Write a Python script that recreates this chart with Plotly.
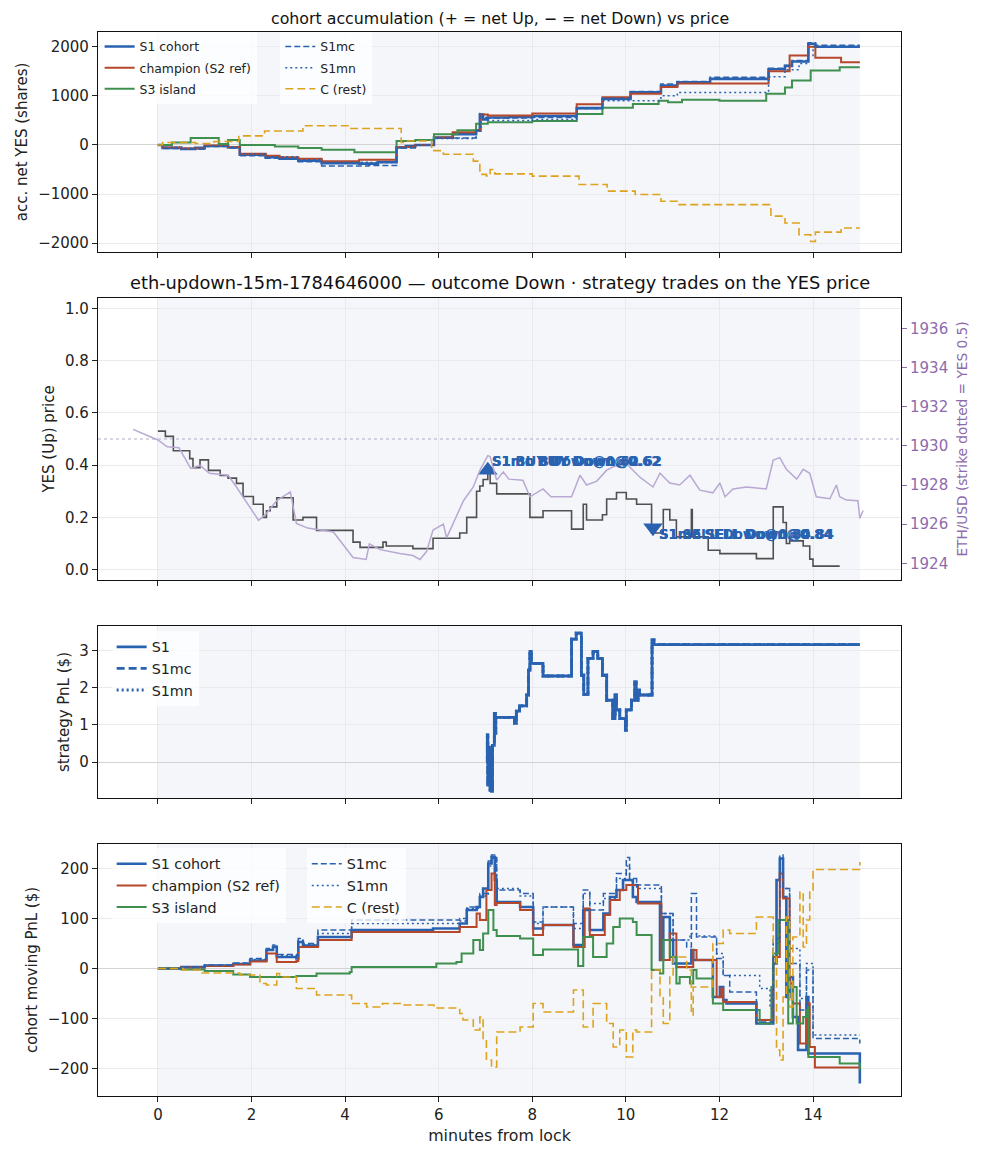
import plotly.graph_objects as go

# ---- data (minutes from lock, value) ----
# panel 1: accumulated net YES shares per cohort
s1_acc = [(0, 0), (0.1, -60), (0.5, -80), (0.8, -60), (1.0, -20), (1.5, -50), (1.75, -200),
          (2.3, -250), (2.6, -280), (3.0, -320), (3.5, -370), (4.3, -380), (4.7, -350),
          (5.1, -50), (5.3, -20), (5.5, 0), (5.9, 150), (6.3, 220), (6.8, 300), (6.88, 620),
          (6.95, 520), (7.05, 560), (7.5, 570), (8.0, 590), (8.95, 750), (9.5, 935),
          (10.1, 1070), (10.75, 1210), (11.1, 1275), (11.8, 1345), (13.05, 1540),
          (13.4, 1610), (13.55, 1700), (13.9, 2060), (14.05, 2000), (15.0, 2000)]
s1mc_acc = [(0, 0), (0.1, -70), (0.5, -90), (1.0, -30), (1.5, -60), (1.75, -220), (2.3, -270),
            (3.0, -340), (3.5, -430), (4.5, -420), (5.1, -60), (5.5, 0), (5.9, 140),
            (6.8, 290), (6.88, 640), (6.95, 520), (7.05, 550), (8.0, 560), (8.95, 740),
            (9.5, 950), (10.1, 1090), (10.75, 1240), (11.1, 1290), (11.8, 1380),
            (13.05, 1560), (13.4, 1620), (13.55, 1720), (13.9, 2080), (14.05, 2030),
            (15.0, 2030)]
s1mn_acc = [(0, 0), (0.1, -50), (0.5, -70), (1.0, -20), (1.5, -40), (1.75, -180), (2.3, -240),
            (3.0, -300), (3.5, -350), (4.5, -360), (5.1, -40), (5.5, 0), (5.9, 130),
            (6.8, 280), (6.9, 560), (7.05, 500), (8.0, 520), (8.95, 740), (9.5, 900),
            (10.75, 1000), (11.1, 1070), (13.05, 1390), (13.4, 1530), (13.7, 1660),
            (13.9, 1820), (14.0, 2000), (15.0, 2000)]
champ_acc = [(0, 0), (0.1, -50), (0.5, -70), (1.0, -10), (1.5, -40), (1.75, -180), (2.3, -220),
             (2.6, -250), (3.0, -280), (3.5, -330), (4.3, -300), (5.1, -40), (5.5, 0),
             (5.9, 150), (6.3, 260), (6.8, 300), (6.9, 620), (7.05, 600), (8.0, 640),
             (8.95, 830), (9.5, 970), (10.1, 1040), (10.75, 1180), (11.1, 1250),
             (13.05, 1500), (13.5, 1820), (13.9, 2000), (14.05, 1775), (14.6, 1685),
             (15.0, 1685)]
s3_acc = [(0, 0), (0.3, 50), (0.7, 140), (1.3, 20), (1.5, 100), (1.75, 0), (2.5, -30),
          (3.0, -60), (3.5, -100), (4.2, -150), (5.1, 80), (5.5, 100), (5.9, 220),
          (6.4, 300), (6.8, 430), (7.05, 460), (8.0, 490), (8.95, 630), (9.5, 760),
          (10.15, 835), (10.7, 900), (10.9, 870), (11.2, 920), (12.0, 900), (13.0, 1040),
          (13.4, 1170), (13.55, 1310), (13.95, 1515), (14.57, 1580), (15.0, 1580)]
rest_acc = [(0, 0), (0.1, 50), (0.8, 30), (1.2, 70), (1.73, 185), (2.28, 285), (3.1, 390),
            (4.1, 335), (5.2, 50), (5.3, 80), (5.85, -115), (6.1, -190), (6.74, -330),
            (6.88, -600), (7.02, -630), (7.1, -500), (7.2, -590), (8.0, -635), (9.0, -805),
            (9.6, -940), (10.2, -1010), (10.75, -1146), (11.1, -1215), (13.1, -1450),
            (13.4, -1590), (13.7, -1830), (13.95, -1965), (14.05, -1775), (14.6, -1690),
            (15.0, -1690)]

# panel 2: YES (Up) price and ETH/USD
yes_price = [(0, 0.53), (0.16, 0.51), (0.33, 0.455), (0.68, 0.425), (0.75, 0.39), (0.9, 0.42),
             (1.08, 0.38), (1.33, 0.36), (1.5, 0.35), (1.68, 0.33), (1.82, 0.28), (2.04, 0.25),
             (2.25, 0.20), (2.32, 0.225), (2.4, 0.24), (2.54, 0.275), (2.89, 0.19), (3.1, 0.20),
             (3.39, 0.15), (4.17, 0.105), (4.32, 0.085), (4.81, 0.105), (4.88, 0.09),
             (5.45, 0.08), (5.88, 0.12), (6.45, 0.14), (6.6, 0.2), (6.81, 0.3), (6.88, 0.32),
             (6.95, 0.345), (7.05, 0.38), (7.1, 0.33), (7.24, 0.29), (7.95, 0.2), (8.23, 0.225),
             (8.84, 0.155), (9.09, 0.25), (9.16, 0.19), (9.5, 0.21), (9.59, 0.27), (9.8, 0.295),
             (10.01, 0.27), (10.23, 0.25), (10.55, 0.14), (10.8, 0.23), (10.94, 0.19),
             (11.08, 0.125), (11.4, 0.23), (11.42, 0.125), (11.76, 0.074), (12.01, 0.061),
             (12.79, 0.042), (13.15, 0.24), (13.36, 0.18), (13.43, 0.10), (13.5, 0.11),
             (13.79, 0.09), (13.93, 0.04), (14.0, 0.013), (14.57, 0.013)]
eth_usd = [(-0.53, 1930.84), (-0.3, 1930.6), (0, 1930.3), (0.2, 1929.95), (0.45, 1929.9),
           (0.7, 1928.85), (0.9, 1929.0), (1.1, 1928.6), (1.5, 1928.5), (1.65, 1928.0),
           (1.9, 1927.1), (2.15, 1926.2), (2.3, 1926.5), (2.54, 1927.2), (2.83, 1927.65),
           (2.96, 1926.04), (3.2, 1925.8), (3.75, 1925.6), (4.17, 1924.3), (4.45, 1924.2),
           (4.52, 1925.0), (4.75, 1924.7), (5.17, 1924.5), (5.45, 1924.4), (5.6, 1924.2),
           (5.74, 1924.6), (5.88, 1925.7), (6.1, 1926.0), (6.17, 1925.3), (6.31, 1926.05),
           (6.53, 1927.2), (6.74, 1927.9), (6.88, 1928.75), (7.05, 1929.5), (7.1, 1929.45),
           (7.24, 1928.25), (7.38, 1928.67), (7.5, 1928.3), (7.8, 1928.25), (7.95, 1927.4),
           (8.09, 1927.6), (8.23, 1927.8), (8.4, 1927.4), (8.84, 1927.4), (9.02, 1928.5),
           (9.16, 1928.0), (9.38, 1928.2), (9.59, 1928.76), (9.73, 1928.93), (10.01, 1929.1),
           (10.3, 1928.4), (10.58, 1927.9), (10.73, 1928.6), (10.94, 1928.1), (11.15, 1928.0),
           (11.37, 1928.5), (11.58, 1927.74), (11.86, 1927.6), (12.01, 1928.1),
           (12.12, 1927.4), (12.29, 1927.8), (12.58, 1927.9), (13.0, 1927.8),
           (13.15, 1929.27), (13.29, 1929.4), (13.43, 1928.8), (13.65, 1928.3),
           (13.79, 1928.8), (13.93, 1928.6), (14.07, 1927.4), (14.36, 1927.3), (14.5, 1928.0),
           (14.57, 1927.4), (14.71, 1927.23), (14.96, 1927.2), (15.0, 1926.3), (15.07, 1926.7)]
strike_yes = 0.5
eth_range = [1923.15, 1937.55]

# trades (same for S1, S1mc, S1mn)
trade_names = ["S1", "S1mc", "S1mn"]
buy_t, buy_down = 7.05, 0.62
sell_t, sell_down = 10.58, 0.84

# panel 3: strategy PnL ($)
strat_pnl = [(7.02, 0), (7.04, 0.73), (7.05, -0.61), (7.07, 0.4), (7.1, -0.75), (7.13, -0.78),
             (7.15, 0.45), (7.19, 1.31), (7.21, 0.78), (7.22, 1.2), (7.62, 1.05), (7.66, 1.37),
             (7.73, 1.51), (7.88, 1.8), (7.92, 2.47), (7.95, 2.97), (7.98, 2.65), (8.23, 2.31),
             (8.84, 3.3), (8.94, 3.46), (9.05, 2.33), (9.1, 1.82), (9.19, 2.78), (9.3, 2.97),
             (9.4, 2.78), (9.5, 2.33), (9.59, 1.66), (9.72, 1.17), (9.77, 1.8), (9.8, 1.4),
             (9.87, 1.17), (9.99, 0.86), (10.01, 1.4), (10.12, 1.66), (10.19, 2.15),
             (10.22, 1.66), (10.26, 1.93), (10.29, 1.8), (10.56, 3.28), (10.6, 3.15), (15.0, 3.15)]

# panel 4: cohort moving PnL ($)
s1_pnl = [(0, 0), (0.5, 3), (1.0, 6), (1.61, 9), (1.97, 16), (2.32, 37), (2.46, 43), (2.54, 23),
          (2.96, 20), (3.0, 53), (3.1, 46), (3.42, 63), (4.14, 77), (5.88, 80), (6.45, 90),
          (6.6, 117), (6.81, 123), (6.88, 143), (6.95, 160), (7.06, 210), (7.13, 223),
          (7.2, 177), (7.24, 133), (7.74, 123), (8.02, 80), (8.23, 87), (8.88, 47), (9.09, 117),
          (9.23, 77), (9.52, 110), (9.66, 143), (9.8, 157), (9.94, 177), (10.15, 143),
          (10.23, 133), (10.73, 17), (10.8, 103), (10.94, 57), (11.01, 10), (11.4, 37),
          (11.44, 17), (11.86, -57), (12.01, -37), (12.08, -63), (12.15, -70), (12.79, -110),
          (13.08, -110), (13.15, 10), (13.22, 177), (13.29, 220), (13.36, 143), (13.43, -57),
          (13.5, -17), (13.57, -97), (13.68, -163), (13.86, -57), (13.9, -170), (15.0, -230)]
s1mc_pnl = [(0, 0), (0.5, 3), (1.0, 7), (1.61, 11), (1.97, 20), (2.32, 40), (2.46, 47),
            (2.54, 28), (2.96, 25), (3.0, 60), (3.1, 50), (3.42, 77), (4.14, 97), (6.45, 100),
            (6.6, 123), (6.88, 150), (7.06, 215), (7.13, 227), (7.24, 157), (7.74, 150),
            (8.02, 93), (8.23, 123), (8.88, 90), (9.09, 157), (9.23, 117), (9.52, 150),
            (9.8, 190), (10.01, 222), (10.08, 180), (10.23, 167), (10.76, 110), (11.01, 57),
            (11.3, 43), (11.4, 150), (11.51, 63), (11.94, 20), (12.08, -14), (12.22, -47),
            (12.79, -107), (13.08, -107), (13.15, 60), (13.29, 227), (13.36, 160), (13.5, 10),
            (13.72, -83), (13.86, -3), (14.0, -140), (15.0, -150)]
s1mn_pnl = [(0, 0), (0.5, 2), (1.0, 6), (1.61, 10), (1.97, 18), (2.32, 38), (2.46, 45),
            (2.54, 26), (2.96, 22), (3.0, 56), (3.1, 48), (3.42, 70), (4.14, 90), (6.45, 95),
            (6.6, 120), (6.88, 145), (7.06, 205), (7.13, 220), (7.24, 160), (7.74, 145),
            (8.02, 90), (8.23, 123), (8.88, 80), (9.09, 150), (9.23, 130), (9.52, 140),
            (9.8, 180), (10.01, 205), (10.08, 175), (10.23, 160), (10.76, 110), (11.01, 57),
            (11.37, 70), (11.51, 65), (11.94, 30), (12.08, -14), (12.86, -40), (13.08, -80),
            (13.15, 50), (13.29, 215), (13.36, 160), (13.5, 40), (13.72, -60), (13.86, 10),
            (14.0, -133), (15.0, -133)]
champ_pnl = [(0, 0), (0.5, 2), (1.0, 5), (1.61, 8), (1.97, 14), (2.32, 30), (2.54, 13),
             (2.96, 15), (3.0, 43), (3.42, 57), (4.14, 73), (6.45, 83), (6.81, 110), (6.88, 97),
             (7.02, 157), (7.13, 190), (7.2, 127), (7.24, 131), (7.74, 117), (8.02, 67),
             (8.23, 87), (8.88, 43), (9.12, 120), (9.23, 67), (9.55, 107), (9.66, 137),
             (9.87, 157), (10.01, 167), (10.26, 130), (10.76, 17), (10.94, 70), (11.08, 3),
             (11.44, 37), (11.51, 17), (11.94, -57), (12.04, -40), (12.08, -67), (12.79, -103),
             (13.08, -103), (13.15, 23), (13.29, 190), (13.36, 140), (13.5, -30), (13.57, -70),
             (13.72, -150), (13.86, -70), (13.93, -157), (14.04, -198), (15.0, -198)]
s3_pnl = [(0, 0), (0.5, -2), (1.0, -5), (1.61, -12), (1.97, -17), (2.96, -15), (3.39, -10),
          (4.1, -7), (4.14, 3), (5.88, 3), (5.95, 10), (6.38, 13), (6.49, 30), (6.74, 57),
          (6.88, 37), (6.95, 70), (7.06, 117), (7.17, 77), (7.24, 65), (7.74, 60), (8.02, 27),
          (8.23, 38), (8.98, 5), (9.09, 63), (9.3, 23), (9.59, 50), (9.73, 83), (9.87, 100),
          (10.15, 93), (10.23, 67), (10.55, -3), (10.73, -10), (10.8, 57), (10.94, 23),
          (11.08, -30), (11.15, -17), (11.37, -30), (11.44, -3), (11.51, -20), (11.86, -70),
          (12.08, -83), (12.86, -110), (13.11, -37), (13.15, 30), (13.25, 97), (13.43, 97),
          (13.47, -110), (13.57, -37), (13.65, -110), (13.79, -97), (13.86, -77),
          (13.9, -177), (14.57, -190), (15.0, -203)]
rest_pnl = [(0, 0), (0.54, -3), (0.9, -9), (1.75, -13), (2.18, -30), (2.32, -33), (2.54, -10),
            (2.6, -17), (2.96, -40), (3.39, -53), (4.14, -70), (4.46, -77), (4.8, -70),
            (5.2, -73), (5.9, -79), (6.45, -90), (6.52, -103), (6.74, -123), (6.88, -97),
            (6.95, -140), (7.02, -183), (7.13, -197), (7.24, -127), (7.74, -117), (8.02, -70),
            (8.23, -87), (8.88, -43), (9.09, -117), (9.3, -70), (9.59, -110), (9.73, -157),
            (9.87, -123), (10.01, -177), (10.15, -123), (10.23, -127), (10.55, -3),
            (10.73, -57), (10.8, -110), (10.94, -17), (11.01, 23), (11.3, -3), (11.4, -93),
            (11.44, -37), (11.86, 50), (12.08, 77), (12.22, 70), (12.79, 103), (13.08, 103),
            (13.15, 23), (13.22, -163), (13.29, -183), (13.36, -57), (13.43, 103), (13.5, -77),
            (13.57, 63), (13.72, 153), (13.79, 43), (13.86, 97), (13.93, 157), (14.0, 198),
            (15.0, 213)]

BLUE = "#2862b0"
RED = "#b5472a"
GREEN = "#3f8f4f"
GOLD = "#dea31e"
GREY = "#505050"
PURPLE = "#8e6bab"
ETHLINE = "#b9a8d2"
SPAN = "#f4f6fa"
FONT = "DejaVu Sans"


def xy(pairs):
    return [p[0] for p in pairs], [p[1] for p in pairs]


fig = go.Figure()


def step(pairs, xa, ya, name, color, width, dash="solid", legend=None):
    x, y = xy(pairs)
    fig.add_trace(go.Scatter(
        x=x, y=y, mode="lines", name=name, xaxis=xa, yaxis=ya,
        line=dict(color=color, width=width, dash=dash, shape="hv"),
        showlegend=legend is not None, legend=legend or "legend",
        legendgroup=(legend or "") + name, hoverinfo="skip"))


# cohort traces for panels 1 and 4
cohorts = [
    ("S1 cohort", BLUE, 2.6, "solid", s1_acc, s1_pnl, "a"),
    ("champion (S2 ref)", RED, 2.0, "solid", champ_acc, champ_pnl, "a"),
    ("S3 island", GREEN, 2.0, "solid", s3_acc, s3_pnl, "a"),
    ("S1mc", BLUE, 1.5, "6px,3px", s1mc_acc, s1mc_pnl, "b"),
    ("S1mn", BLUE, 1.5, "2px,3px", s1mn_acc, s1mn_pnl, "b"),
    ("C (rest)", GOLD, 1.6, "8px,4px", rest_acc, rest_pnl, "b"),
]
for name, col, w, d, acc, pnl, grp in cohorts:
    step(acc, "x", "y", name, col, w, d, "legend" if grp == "a" else "legend2")
for name, col, w, d, acc, pnl, grp in cohorts:
    step(pnl, "x4", "y4", name, col, w, d, "legend4" if grp == "a" else "legend5")

# panel 2
ex, ey = xy(eth_usd)
fig.add_trace(go.Scatter(x=ex, y=ey, mode="lines", xaxis="x2", yaxis="y5",
                         line=dict(color=ETHLINE, width=1.5), showlegend=False))
step(yes_price, "x2", "y2", "YES", GREY, 1.6)
fig.add_trace(go.Scatter(x=[buy_t], y=[1 - buy_down], mode="markers", xaxis="x2", yaxis="y2",
                         marker=dict(symbol="triangle-up", size=17, color=BLUE),
                         showlegend=False))
fig.add_trace(go.Scatter(x=[sell_t], y=[1 - sell_down], mode="markers", xaxis="x2", yaxis="y2",
                         marker=dict(symbol="triangle-down", size=17, color=BLUE),
                         showlegend=False))
for nm in trade_names:
    fig.add_annotation(x=buy_t, y=1 - buy_down, xref="x2", yref="y2", showarrow=False,
                       text="<b>%s BUY Down@%.2f</b>" % (nm, buy_down), xanchor="left",
                       xshift=2, yshift=9, font=dict(size=13.3, color=BLUE, family=FONT))
    fig.add_annotation(x=sell_t, y=1 - sell_down, xref="x2", yref="y2", showarrow=False,
                       text="<b>%s SELL Down@%.2f</b>" % (nm, sell_down), xanchor="left",
                       xshift=4, yshift=-7, font=dict(size=13.3, color=BLUE, family=FONT))

# panel 3
for nm, d in zip(trade_names, ["solid", "8px,4px", "2px,3px"]):
    step(strat_pnl, "x3", "y3", nm, BLUE, 2.8, d, "legend3")

# shaded lock window and strike line
for xa, ya in [("x", "y"), ("x2", "y2"), ("x3", "y3"), ("x4", "y4")]:
    fig.add_shape(type="rect", xref=xa, yref=ya + " domain", x0=0, x1=15, y0=0, y1=1,
                  fillcolor=SPAN, line_width=0, layer="below")
fig.add_shape(type="line", xref="x2 domain", yref="y2", x0=0, x1=1, y0=strike_yes,
              y1=strike_yes, line=dict(color="#b4aac8", width=1, dash="dot"))

TICK = 15
tickfont = dict(family=FONT, size=TICK, color="#222")
xcommon = dict(range=[-1.28, 15.88], tick0=0, dtick=2, ticks="outside", ticklen=5,
               tickcolor="#222", showline=True, linecolor="#111", linewidth=1.2, mirror=True,
               showgrid=True, gridcolor="#e9e9ee", zeroline=False, tickfont=tickfont,
               automargin=False)
ycommon = dict(ticks="outside", ticklen=5, tickcolor="#222", showline=True, linecolor="#111",
               linewidth=1.2, mirror=True, showgrid=True, gridcolor="#e9e9ee",
               tickfont=tickfont, zerolinecolor="#d3d3d3", zerolinewidth=1.2,
               automargin=False)

# page pixel geometry (the page has an 8px body margin)
OFF = 8
H = 1064.0
BOTTOM = 1096


def dom(top, bottom):
    return [(BOTTOM - bottom) / H, (BOTTOM - top) / H]


def ytitle(t, size=15, color="#222", standoff=6):
    return dict(text=t, font=dict(family=FONT, size=size, color=color), standoff=standoff)


fig.update_layout(
    width=967, height=1140, margin=dict(l=98 - OFF, r=74, t=32 - OFF, b=52),
    paper_bgcolor="white", plot_bgcolor="white",
    font=dict(family=FONT, size=13, color="#222"),
    xaxis=dict(xcommon, anchor="y", showticklabels=False, domain=[0, 1]),
    xaxis2=dict(xcommon, anchor="y2", matches="x", showticklabels=False),
    xaxis3=dict(xcommon, anchor="y3", matches="x", showticklabels=False),
    xaxis4=dict(xcommon, anchor="y4", matches="x",
                title=dict(text="minutes from lock", font=dict(family=FONT, size=15.8),
                           standoff=6)),
    yaxis=dict(ycommon, domain=dom(32, 252), anchor="x", range=[-2180, 2300], dtick=1000,
               zeroline=True, title=ytitle("acc. net YES (shares)")),
    yaxis2=dict(ycommon, domain=dom(298, 580), anchor="x2", range=[-0.04, 1.04], dtick=0.2,
                tickformat=".1f", zeroline=False, title=ytitle("YES (Up) price")),
    yaxis3=dict(ycommon, domain=dom(626, 798), anchor="x3", range=[-0.96, 3.65], dtick=1,
                zeroline=True, title=ytitle("strategy PnL ($)")),
    yaxis4=dict(ycommon, domain=dom(844, 1096), anchor="x4", range=[-255, 249], dtick=100,
                zeroline=True, title=ytitle("cohort moving PnL ($)")),
    yaxis5=dict(overlaying="y2", side="right", anchor="x2", range=eth_range, dtick=2,
                ticks="outside", ticklen=5, tickcolor=PURPLE, showgrid=False, zeroline=False,
                tickfont=dict(family=FONT, size=TICK, color=PURPLE), automargin=False,
                title=ytitle("ETH/USD (strike dotted = YES 0.5)", 13.7, PURPLE, 10)),
    showlegend=True,
)

lg = dict(bgcolor="rgba(255,255,255,0.75)", borderwidth=0, xanchor="left", yanchor="top",
          orientation="v", itemwidth=30, traceorder="grouped", tracegroupgap=2)
f1 = dict(family=FONT, size=12.4, color="#222")
f2 = dict(family=FONT, size=14.3, color="#222")
fig.update_layout(
    legend=dict(lg, x=0.002, y=dom(32, 0)[1], font=f1),
    legend2=dict(lg, x=0.227, y=dom(32, 0)[1], font=f1),
    legend3=dict(lg, x=0.017, y=dom(631, 0)[1], font=f2, tracegroupgap=0),
    legend4=dict(lg, x=0.017, y=dom(848, 0)[1], font=f2, tracegroupgap=0),
    legend5=dict(lg, x=0.26, y=dom(848, 0)[1], font=f2, tracegroupgap=0),
)

# panel titles
fig.add_annotation(text="cohort accumulation (+ = net Up, \u2212 = net Down) vs price",
                   xref="paper", yref="paper", x=0.5, y=dom(18, 0)[1], yanchor="middle",
                   showarrow=False, font=dict(family=FONT, size=15.8, color="#111"))
fig.add_annotation(text="eth-updown-15m-1784646000 \u2014 outcome Down \u00b7 strategy trades on the YES price",
                   xref="paper", yref="paper", x=0.5, y=dom(282, 0)[1], yanchor="middle",
                   showarrow=False, font=dict(family=FONT, size=17.8, color="#111"))

fig.write_html("out.html")
